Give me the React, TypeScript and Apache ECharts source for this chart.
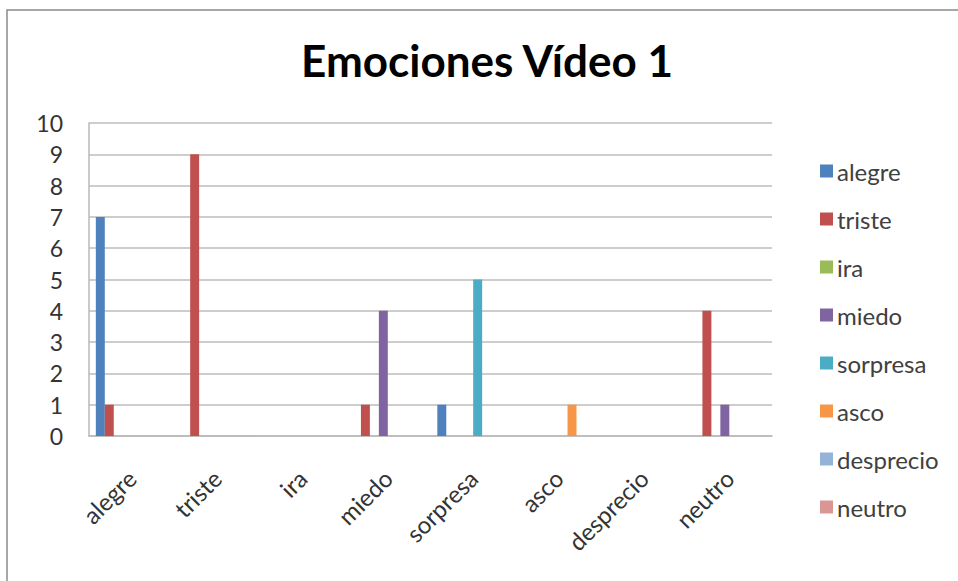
import React, { useEffect, useRef } from "react";
import * as echarts from "echarts";

const categories = ["alegre", "triste", "ira", "miedo", "sorpresa", "asco", "desprecio", "neutro"];
const seriesNames = ["alegre", "triste", "ira", "miedo", "sorpresa", "asco", "desprecio", "neutro"];
const seriesColors = ["#4F81BD", "#C0504D", "#9BBB59", "#8064A2", "#4BACC6", "#F79646", "#95B3D7", "#D99694"];

const alegre = [7, 0, 0, 0, 1, 0, 0, 0];
const triste = [1, 9, 0, 1, 0, 0, 0, 4];
const ira = [0, 0, 0, 0, 0, 0, 0, 0];
const miedo = [0, 0, 0, 4, 0, 0, 0, 1];
const sorpresa = [0, 0, 0, 0, 5, 0, 0, 0];
const asco = [0, 0, 0, 0, 0, 1, 0, 0];
const desprecio = [0, 0, 0, 0, 0, 0, 0, 0];
const neutro = [0, 0, 0, 0, 0, 0, 0, 0];

const seriesValues = [alegre, triste, ira, miedo, sorpresa, asco, desprecio, neutro];
const yTicks = { min: 0, max: 10, interval: 1 };
const titleText = "Emociones Vídeo 1";

const FONT = "Lato, 'Open Sans', sans-serif";

export default function App() {
  const ref = useRef<HTMLDivElement>(null);

  useEffect(() => {
    if (!ref.current) return;
    const chart = echarts.init(ref.current, undefined, { renderer: "svg" });
    chart.setOption({
      animation: false,
      backgroundColor: "#ffffff",
      textStyle: { fontFamily: FONT },
      graphic: [
        {
          type: "rect",
          shape: { x: 7, y: 10, width: 980, height: 600 },
          style: { fill: "none", stroke: "#8a8a8a", lineWidth: 1.5 },
          silent: true,
        },
        {
          type: "text",
          x: 487,
          y: 38,
          style: {
            text: titleText,
            fontFamily: FONT,
            fontSize: 44,
            fontWeight: "bold",
            fill: "#000000",
            textAlign: "center",
            textVerticalAlign: "top",
          },
        },
      ],
      legend: {
        orient: "vertical",
        left: 815,
        top: 154,
        itemWidth: 13,
        itemHeight: 13,
        itemGap: 24,
        icon: "rect",
        textStyle: { fontFamily: FONT, fontSize: 24, color: "#404040", padding: [0, 0, 0, -1] },
        data: seriesNames,
      },
      grid: { left: 89, right: 186, top: 123, bottom: 145, containLabel: false },
      xAxis: {
        type: "category",
        data: categories,
        axisLine: { lineStyle: { color: "#b8b8b8", width: 1.5 } },
        axisTick: { show: false },
        axisLabel: {
          rotate: 45,
          margin: 38,
          fontFamily: FONT,
          fontSize: 24,
          color: "#333333",
          interval: 0,
        },
      },
      yAxis: {
        type: "value",
        min: yTicks.min,
        max: yTicks.max,
        interval: yTicks.interval,
        axisLine: { show: true, lineStyle: { color: "#b8b8b8", width: 1.5 } },
        axisTick: { show: false },
        axisLabel: { margin: 26, fontFamily: FONT, fontSize: 23, color: "#333333" },
        splitLine: { lineStyle: { color: "#bdbdbd", width: 1.5 } },
      },
      series: seriesNames.map((name, i) => ({
        name,
        type: "bar",
        data: seriesValues[i],
        barGap: "0%",
        barCategoryGap: "16%",
        itemStyle: { color: seriesColors[i] },
      })),
    });
    return () => chart.dispose();
  }, []);

  return (
    <div
      ref={ref}
      style={{ position: "fixed", left: 0, top: 0, width: 958, height: 581 }}
    />
  );
}
